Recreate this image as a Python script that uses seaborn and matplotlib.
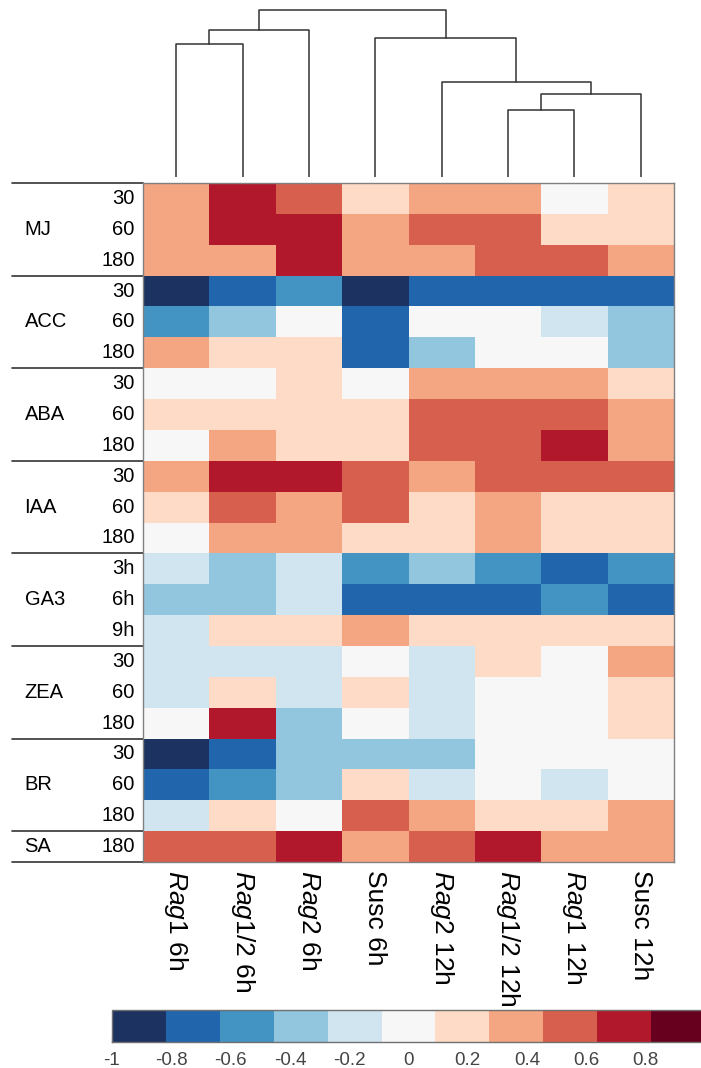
import numpy as np
import pandas as pd
import matplotlib.pyplot as plt
from matplotlib.colors import ListedColormap
from matplotlib.transforms import blended_transform_factory
import seaborn as sns

# columns (order of the dendrogram leaves)
strains = ['Rag1', 'Rag1/2', 'Rag2', 'Susc', 'Rag2', 'Rag1/2', 'Rag1', 'Susc']
times = ['6h', '6h', '6h', '6h', '12h', '12h', '12h', '12h']

# row groups and their sub labels
hormones = ['MJ', 'ACC', 'ABA', 'IAA', 'GA3', 'ZEA', 'BR', 'SA']
doses = [['30', '60', '180'], ['30', '60', '180'], ['30', '60', '180'],
         ['30', '60', '180'], ['3h', '6h', '9h'], ['30', '60', '180'],
         ['30', '60', '180'], ['180']]

# correlation values
mj = [[0.35, 0.7, 0.55, 0.2, 0.35, 0.35, 0.0, 0.2],
      [0.35, 0.7, 0.7, 0.35, 0.55, 0.55, 0.2, 0.2],
      [0.35, 0.35, 0.7, 0.35, 0.35, 0.55, 0.55, 0.35]]
acc = [[-0.9, -0.7, -0.55, -0.9, -0.7, -0.7, -0.7, -0.7],
       [-0.55, -0.35, 0.0, -0.7, 0.0, 0.0, -0.2, -0.35],
       [0.35, 0.2, 0.2, -0.7, -0.35, 0.0, 0.0, -0.35]]
aba = [[0.0, 0.0, 0.2, 0.0, 0.35, 0.35, 0.35, 0.2],
       [0.2, 0.2, 0.2, 0.2, 0.55, 0.55, 0.55, 0.35],
       [0.0, 0.35, 0.2, 0.2, 0.55, 0.55, 0.7, 0.35]]
iaa = [[0.35, 0.7, 0.7, 0.55, 0.35, 0.55, 0.55, 0.55],
       [0.2, 0.55, 0.35, 0.55, 0.2, 0.35, 0.2, 0.2],
       [0.0, 0.35, 0.35, 0.2, 0.2, 0.35, 0.2, 0.2]]
ga3 = [[-0.2, -0.35, -0.2, -0.55, -0.35, -0.55, -0.7, -0.55],
       [-0.35, -0.35, -0.2, -0.7, -0.7, -0.7, -0.55, -0.7],
       [-0.2, 0.2, 0.2, 0.35, 0.2, 0.2, 0.2, 0.2]]
zea = [[-0.2, -0.2, -0.2, 0.0, -0.2, 0.2, 0.0, 0.35],
       [-0.2, 0.2, -0.2, 0.2, -0.2, 0.0, 0.0, 0.2],
       [0.0, 0.7, -0.35, 0.0, -0.2, 0.0, 0.0, 0.2]]
br = [[-0.9, -0.7, -0.35, -0.35, -0.35, 0.0, 0.0, 0.0],
      [-0.7, -0.55, -0.35, 0.2, -0.2, 0.0, -0.2, 0.0],
      [-0.2, 0.2, 0.0, 0.55, 0.35, 0.2, 0.2, 0.35]]
sa = [[0.55, 0.55, 0.7, 0.35, 0.55, 0.7, 0.35, 0.35]]

# column dendrogram: (left node, right node, height); new nodes numbered from 8
merges = [(0, 1, 1.33), (8, 2, 1.47), (5, 6, 0.67), (10, 7, 0.83),
          (4, 11, 0.95), (3, 12, 1.39), (9, 13, 1.67)]

palette = ['#1c3261', '#2166ac', '#4393c3', '#92c5de', '#d1e5f0', '#f7f7f7',
           '#fddbc7', '#f4a582', '#d6604d', '#b2182b', '#67001f']

sns.set_style('white')
plt.rcParams['font.family'] = ['Liberation Sans', 'DejaVu Sans']
plt.rcParams['text.color'] = 'black'
plt.rcParams['xtick.color'] = 'black'
plt.rcParams['ytick.color'] = 'black'
plt.rcParams['mathtext.fontset'] = 'custom'
plt.rcParams['mathtext.rm'] = 'Liberation Sans'
plt.rcParams['mathtext.it'] = 'Liberation Sans:italic'

blocks = [mj, acc, aba, iaa, ga3, zea, br, sa]
data = np.vstack([np.array(b) for b in blocks])
row_labels = [d for grp in doses for d in grp]
col_labels = [(r'$\mathit{%s}$ %s' % (s, t)) if s != 'Susc' else f'{s} {t}'
              for s, t in zip(strains, times)]
df = pd.DataFrame(data, index=range(len(row_labels)), columns=range(len(col_labels)))

W, H = 701, 1068
fig = plt.figure(figsize=(W / 100, H / 100), dpi=100)
ax = fig.add_axes([143 / W, 1 - 862 / H, 531 / W, 679 / H])
ax_d = fig.add_axes([143 / W, 1 - 177 / H, 531 / W, 170 / H])
cax = fig.add_axes([112 / W, 1 - 1042 / H, 593 / W, 32 / H])

sns.heatmap(df, ax=ax, cmap=ListedColormap(palette), vmin=-1, vmax=1,
            cbar_ax=cax, cbar_kws={'orientation': 'horizontal',
                                   'ticks': np.linspace(-1, 1, 11)},
            xticklabels=col_labels, yticklabels=row_labels)

for s in ax.spines.values():
    s.set_visible(True)
    s.set_color('#808080')
    s.set_linewidth(1)
ax.tick_params(axis='y', length=3, direction='in', color='#999999',
               labelsize=14.5, labelcolor='black', pad=6, left=True)
ax.tick_params(axis='x', length=0, pad=6, bottom=True, labelcolor='black')
ax.set_yticklabels(row_labels, rotation=0)
ax.set_xticklabels(col_labels, rotation=-90, ha='left', va='center',
                   rotation_mode='anchor', fontsize=19)
ax.set_xlabel('')
ax.set_ylabel('')

# group labels and separators on the left
trans = blended_transform_factory(ax.transAxes, ax.transData)
start = 0
for name, grp in zip(hormones, doses):
    n = len(grp)
    ax.text(-0.223, start + n / 2, name, transform=trans, ha='left',
            va='center', fontsize=14.5, color='black')
    ax.plot([-0.247, 0], [start, start], transform=trans, color='#333333',
            lw=1.2, clip_on=False)
    start += n
ax.plot([-0.247, 0], [start, start], transform=trans, color='#333333',
        lw=1.2, clip_on=False)

# dendrogram
node_x = {i: i + 0.5 for i in range(len(strains))}
node_h = {i: 0.0 for i in range(len(strains))}
for k, (a, b, h) in enumerate(merges):
    ax_d.plot([node_x[a], node_x[a], node_x[b], node_x[b]],
              [node_h[a], h, h, node_h[b]], color='#333333', lw=1.1)
    node_x[len(strains) + k] = (node_x[a] + node_x[b]) / 2
    node_h[len(strains) + k] = h
ax_d.set_xlim(0, len(strains))
ax_d.set_ylim(0, 1.70)
ax_d.axis('off')

# colorbar
cbar = ax.collections[0].colorbar
cbar.outline.set_edgecolor('#707070')
cbar.outline.set_linewidth(1)
cax.set_xticklabels([f'{v:g}' if abs(v) > 1e-9 else '0'
                     for v in np.round(np.linspace(-1, 1, 11), 1)])
cax.tick_params(axis='x', direction='in', length=5, color='#555555',
                labelsize=13.5, labelcolor='#444444', pad=7)

fig.savefig('out.png', dpi=100)
